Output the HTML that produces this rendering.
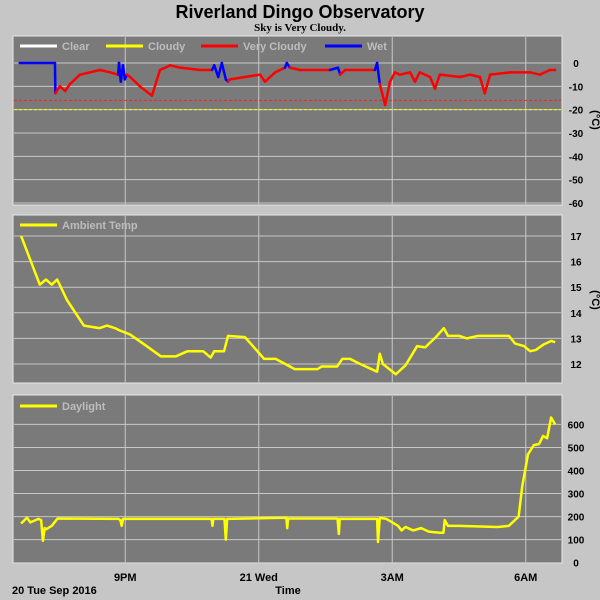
<!DOCTYPE html>
<html><head><meta charset="utf-8"><style>
body{margin:0;background:#c6c6c6;}
svg{display:block;font-family:"Liberation Sans",sans-serif;}
</style></head><body>
<svg id="c" width="600" height="600" xmlns="http://www.w3.org/2000/svg">
<rect x="0" y="0" width="600" height="600" fill="#c6c6c6"/>
<text x="300" y="18" text-anchor="middle" font-size="18" font-weight="bold" fill="#000">Riverland Dingo Observatory</text>
<text x="300" y="31" text-anchor="middle" font-size="11" font-weight="bold" font-family="Liberation Serif,serif" fill="#000">Sky is Very Cloudy.</text>
<g id="g"></g>
<text x="12" y="594" font-size="11" font-weight="bold">20 Tue Sep 2016</text>
<text x="288" y="594" text-anchor="middle" font-size="11" font-weight="bold">Time</text>
</svg>
<script>
// shared x axis (hours; >24 = next day)
const xTickHours=[21,24,27,30];
const xTickLabels=["9PM","21 Wed","3AM","6AM"];
// sky temperature
const skyTimes=[18.63,19.42,19.43,19.53,19.65,19.76,19.98,20.21,20.43,20.66,20.84,20.86,20.9,20.95,20.99,21.04,21.11,21.33,21.6,21.78,22.01,22.23,22.68,22.95,23.0,23.09,23.17,23.26,23.31,23.35,23.69,24.03,24.14,24.37,24.59,24.63,24.7,24.93,25.6,25.78,25.83,25.94,26.61,26.66,26.72,26.84,26.95,27.06,27.17,27.4,27.51,27.62,27.85,27.96,28.07,28.52,28.75,28.97,29.08,29.2,29.65,30.1,30.32,30.54,30.66];
const skyValues=[0,0,-13,-10,-12,-9,-5,-4,-3,-4,-5,0,-8,-1,-7,-5,-6,-10,-14,-3,-1,-2,-3,-3,-1,-6,0,-7,-8,-7,-6,-5,-8,-4,-2,0,-2,-3,-3,-2,-5,-3,-3,0,-9,-18,-8,-4,-5,-4,-8,-4,-6,-11,-5,-6,-5,-6,-13,-5,-4,-4,-5,-3,-3];
const skyState=["w","w","w","v","v","v","v","v","v","v","v","w","w","w","w","w","v","v","v","v","v","v","v","v","w","w","w","w","w","v","v","v","v","v","v","w","w","v","v","w","w","v","v","w","w","v","v","v","v","v","v","v","v","v","v","v","v","v","v","v","v","v","v","v","v"];
const skyThresholds=[-16,-20];
const skyTicks=[0,-10,-20,-30,-40,-50,-60];
// ambient temp
const ambTimes=[18.66,19.08,19.22,19.35,19.47,19.69,20.07,20.42,20.59,20.77,20.89,21.11,21.44,21.8,22.14,22.4,22.75,22.92,23.0,23.22,23.31,23.69,24.12,24.38,24.81,25.32,25.41,25.76,25.88,26.05,26.28,26.66,26.72,26.79,27.08,27.3,27.56,27.74,27.98,28.16,28.25,28.5,28.68,28.93,29.62,29.76,29.96,30.1,30.23,30.39,30.57,30.66];
const ambValues=[17,15.1,15.3,15.1,15.3,14.5,13.5,13.4,13.5,13.4,13.3,13.15,12.75,12.3,12.3,12.5,12.5,12.25,12.5,12.5,13.1,13.05,12.2,12.2,11.8,11.8,11.9,11.9,12.2,12.2,12.0,11.7,12.4,12.0,11.6,11.95,12.7,12.65,13.05,13.4,13.1,13.1,13.0,13.1,13.1,12.8,12.7,12.5,12.55,12.75,12.9,12.85];
const ambTicks=[17,16,15,14,13,12];
// daylight
const dayTimes=[18.66,18.79,18.87,19.05,19.11,19.15,19.19,19.22,19.35,19.48,20.85,20.89,20.92,20.95,22.94,22.96,22.98,23.23,23.26,23.29,24.62,24.64,24.66,25.77,25.8,25.82,26.66,26.68,26.72,26.87,27.13,27.21,27.3,27.47,27.65,27.82,28.07,28.15,28.18,28.25,28.5,29.37,29.62,29.84,29.92,30.05,30.18,30.3,30.39,30.48,30.57,30.66];
const dayValues=[170,195,175,190,185,95,150,145,160,192,190,185,160,190,190,160,190,190,100,190,195,150,192,192,125,190,190,90,195,190,160,140,155,140,150,135,130,130,185,160,160,155,160,200,330,470,510,515,550,540,630,600];
const dayTicks=[600,500,400,300,200,100,0];

const NS="http://www.w3.org/2000/svg";
const G=document.getElementById('g');
function mk(tag,attrs,parent){const e=document.createElementNS(NS,tag);for(const k in attrs)e.setAttribute(k,attrs[k]);(parent||G).appendChild(e);return e;}
const X0=14,X1=561;
function xs(h){return X0+(h-18.5)*44.5;}
function panel(name,top,bot,ys,ticks){
  const r=mk('rect',{x:X0-1,y:top,width:X1-X0+2,height:bot-top,fill:'#7a7a7a',stroke:'#e8e8e8','stroke-width':1});
  
  ticks.forEach(t=>{const l=mk('line',{x1:X0,x2:X1,y1:ys(t),y2:ys(t),stroke:'#c8c8c8','stroke-width':1});
    
    const tx=mk('text',{x:576,y:ys(t)+4,'text-anchor':'middle','font-size':10,'font-weight':'bold',fill:'#000'});
    tx.textContent=String(t);
    });
  xTickHours.forEach(h=>{const l=mk('line',{x1:xs(h),x2:xs(h),y1:top+1,y2:bot,stroke:'#c8c8c8','stroke-width':1});
    });
}
function legend(items,y){items.forEach(it=>{
  const l=mk('line',{x1:it.x,x2:it.x+37,y1:y,y2:y,stroke:it.c,'stroke-width':3});
  
  const t=mk('text',{x:it.x+42,y:y+4,'font-size':11,'font-weight':'bold',fill:'#bdbdbd'});t.textContent=it.t;
  });}
function line(times,vals,ys,color,name){
  const p=mk('polyline',{points:times.map((t,i)=>xs(t)+','+ys(vals[i])).join(' '),fill:'none',stroke:color,'stroke-width':2.5,'stroke-linejoin':'round'});
  }
function unit(y){const t=mk('text',{x:592,y:y,'font-size':11,'font-weight':'bold','text-anchor':'middle',transform:'rotate(90 592 '+y+')'});t.textContent='(°C)';
  }

// panel 1
const ys1=v=>63-v*2.333;
panel('sky',36,205,ys1,skyTicks);
const thrCol=['#ff2020','#ffff00'];
skyThresholds.forEach((v,i)=>{const l=mk('line',{x1:X0,x2:X1,y1:ys1(v),y2:ys1(v),stroke:thrCol[i],'stroke-width':1,'stroke-dasharray':'3,2'});
  });
for(let i=1;i<skyTimes.length;i++){
  const s=mk('line',{x1:xs(skyTimes[i-1]),y1:ys1(skyValues[i-1]),x2:xs(skyTimes[i]),y2:ys1(skyValues[i]),stroke:skyState[i]==='w'?'#0000ff':'#ff0000','stroke-width':2.5,'stroke-linecap':'round'});
  }
legend([{x:20,c:'#ffffff',t:'Clear'},{x:106,c:'#ffff00',t:'Cloudy'},{x:201,c:'#ff0000',t:'Very Cloudy'},{x:325,c:'#0000ff',t:'Wet'}],46);
unit(120);
// panel 2
const ys2=v=>236-(v-17)*25.6;
panel('ambient',215,383,ys2,ambTicks);
line(ambTimes,ambValues,ys2,'#ffff00','ambient-temp-line');
legend([{x:20,c:'#ffff00',t:'Ambient Temp'}],225);
unit(300);
// panel 3
const ys3=v=>562.7-v*0.2305;
panel('daylight',395,563,ys3,dayTicks);
line(dayTimes,dayValues,ys3,'#ffff00','daylight-line');
legend([{x:20,c:'#ffff00',t:'Daylight'}],406);
xTickHours.forEach((h,i)=>{const t=mk('text',{x:xs(h),y:581,'text-anchor':'middle','font-size':11,'font-weight':'bold'});t.textContent=xTickLabels[i];
  });
</script>
</body></html>
